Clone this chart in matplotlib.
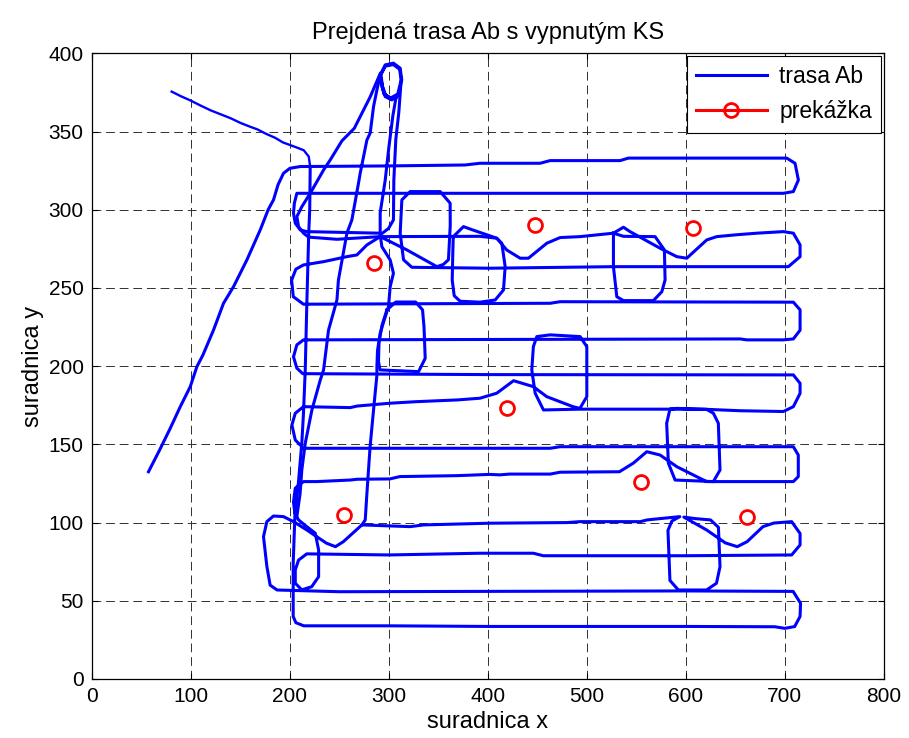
import matplotlib
matplotlib.use("Agg")
import matplotlib.pyplot as plt
from matplotlib.lines import Line2D

plt.rcParams['font.family'] = ['Liberation Sans', 'DejaVu Sans']

# ---------------- data ----------------
title = "Prejdená trasa Ab s vypnutým KS"
xlabel = "suradnica x"
ylabel = "suradnica y"
legend_labels = ["trasa Ab", "prekážka"]
xticks = [0, 100, 200, 300, 400, 500, 600, 700, 800]
yticks = [0, 50, 100, 150, 200, 250, 300, 350, 400]

# obstacles
obst_x = [254.8, 284.5, 447.8, 607.7, 419.0, 555.0, 661.6]
obst_y = [104.9, 265.8, 290.3, 288.2, 173.0, 126.2, 103.8]

# route: entry (jagged) + lower rows
route_entry = [(80.5, 375.5), (90, 372.5), (99, 370), (110, 366.5), (120, 363.5), (130, 361),
               (140, 358.5), (150, 355.5), (160, 353), (167, 351.4), (176, 348.5), (185, 346),
               (193, 343), (200, 341.4), (208, 339.5), (214, 338), (219, 334), (220.5, 327.5),
               (220, 300), (219, 285), (217, 238), (215.5, 198), (213.7, 170), (212, 150.7),
               (208.5, 125), (205, 104), (203.3, 74), (203.3, 40), (206, 36), (214, 34),
               (300, 34), (400, 33.6), (500, 33.6), (600, 33.6), (690, 33.4), (700, 32.4),
               (710, 33.5), (715.5, 40), (716, 48.4), (708.5, 56), (600, 56.3), (400, 56),
               (250, 55.8), (187, 56.9), (180, 60), (176.7, 72), (173.3, 91), (176.7, 100.6),
               (183.4, 104.2), (193.5, 103.8), (203.6, 100.6), (217, 95.3), (227, 91),
               (237, 86.8), (246, 84.6), (254, 87.8), (272.7, 98.5), (321.5, 97.4), (335, 98.5),
               (402, 99.6), (480, 100), (493, 100.6), (554, 100.6), (561, 101.7), (594, 103.8),
               (586, 101), (582, 95), (584, 63), (592.5, 56.9), (621, 56.9), (631, 61.2),
               (634.6, 71.8), (633, 97), (625, 101.7), (610, 102.5), (598, 103.5),
               (621, 95.3), (640, 87), (652, 84.6), (662, 87.8), (678, 97.4), (689, 99.7),
               (707, 100.6), (715.5, 93), (715.5, 85.7), (707, 79.3), (600, 78.8), (456, 78.8),
               (446, 80.4), (392, 80.4), (300, 79.3), (217, 80), (208.7, 76), (205.4, 69.7),
               (205.4, 61.2), (212, 57), (222, 59), (229, 65.4), (229, 82.5), (225.6, 93.2),
               (217, 97.4), (208.7, 101.7), (205, 106), (203.6, 113), (205.4, 122),
               (213.7, 126.2), (227, 126.2), (261, 127.2), (268, 127.7), (301, 127.9),
               (311, 129.4), (369, 130), (402, 130.8), (412, 130.5), (422, 131), (463, 131),
               (473, 132.2), (533, 132.5), (547, 138), (560.6, 145.3), (574, 143.2),
               (591, 135.7), (611, 129.4), (621, 126.2), (708.7, 126.2), (713.7, 129.4),
               (713.7, 143.2), (708.7, 148.5), (473, 148.5), (463, 147.5), (213.7, 147.5),
               (205.4, 152.8), (202, 162.4), (205.4, 169.9), (213.7, 174.1), (261, 173.5),
               (268, 174.5), (301, 176.3), (328, 177.3), (369, 178.4), (392, 179.5),
               (409, 182.7), (426, 190.7), (446, 186.9), (459.5, 180.5), (486, 174.1),
               (493, 173), (500, 180.5), (500, 212.5), (493.2, 218.9), (462.9, 220),
               (449.5, 218.9), (446, 212.5), (444.4, 197.6), (447.8, 182.7), (456.2, 172),
               (493, 172.5), (584, 172.5), (580.7, 163.5), (582.4, 138), (589.2, 127.2),
               (627.9, 126.2), (634.6, 133.6), (632.9, 163.5), (627.9, 169.9), (621, 172.4),
               (590.7, 173), (584, 172.5), (621, 172.4),
               (654.8, 171.5), (698.6, 171), (708.7, 174.1), (715.5, 182.6), (715.5, 189),
               (708.7, 194.4), (400, 194.6), (213, 195.2), (207, 198.7), (203.6, 206),
               (207, 213.6), (213.7, 216.8), (654.9, 217.4), (661.6, 216.8), (698.6, 216.8),
               (708.7, 217.4), (715.5, 223), (715.5, 236), (708.7, 240.9), (473, 241.2),
               (463, 240.2), (213.7, 239.6), (203.4, 244.4), (201.7, 255), (206, 262),
               (213.7, 264.7), (234, 266.8), (257.6, 270), (267.7, 271.1), (277.8, 277.5),
               (291.2, 282.8), (318.2, 274.3), (348.5, 263.6), (355, 265), (360.2, 268),
               (362, 290), (361.9, 304.2), (351.8, 311.6), (321.5, 311.6), (313.1, 306.3),
               (311.4, 285), (314.8, 268), (323.2, 263.2), (402.3, 262.6), (526.9, 263.6),
               (703.7, 263.6), (715.5, 270), (715.5, 277.5), (708.7, 285), (698.6, 286),
               (671.7, 285), (651.5, 284), (631.3, 282.8), (621.2, 280.7), (601, 269),
               (590.9, 270), (574, 275.4), (543.7, 286), (537, 288.8), (526.9, 285),
               (493.2, 282.8), (473, 282.2), (459.6, 278.6), (441, 269), (432.6, 269),
               (419, 274.3), (409, 281.8), (392, 283), (291.2, 282.8)]

# route: start line, top rows, up to the top loop and down line B
route_top = [(57.1, 132.5), (68, 146), (79.1, 160.3), (89.2, 174.1), (99.3, 186.9),
             (106, 199.7), (112, 207), (122.8, 223.1), (132.9, 240.2), (143, 250.8),
             (156.5, 267.9), (170, 287.1), (178, 300), (183.4, 306.3), (188, 316),
             (193.5, 323.3), (200, 326.5), (210.4, 327.6), (300, 328), (377, 328.6),
             (392, 329.7), (452.8, 329.7), (462.9, 331.4), (533.6, 331.4), (542, 333),
             (702, 333), (710.4, 329.7), (713.8, 319), (708.7, 311.6), (698.6, 310.5),
             (207, 310.5), (204.5, 304.2), (203.6, 297.8), (205.4, 291.4), (210.4, 287.1),
             (217, 286), (291.2, 285), (291.2, 290), (291.2, 298), (296.3, 319), (300, 340),
             (304, 360), (307, 371), (309.7, 373.4), (303, 370.2), (296.3, 372.3),
             (292.9, 378.7), (291.2, 386), (296.3, 392.6), (304.6, 393.7), (311.4, 390.5),
             (313, 383), (309.7, 373.4), (303, 370.8), (296.8, 373), (293.5, 379),
             (292, 386.5), (296.5, 391.8), (304.5, 392.8), (310.8, 389.8), (312.4, 383),
             (309, 374), (302, 371.5), (295, 374), (291.2, 386), (287.9, 376.6),
             (284.5, 366), (281.1, 349), (277.8, 344.6), (271, 323.3), (269.3, 317),
             (262.6, 293.5), (257.6, 285), (249, 255), (247.5, 242.3), (239, 223),
             (234, 197.6), (230.6, 191), (222.2, 172), (215.5, 150.7), (212, 133.6),
             (210.3, 118.7), (207, 103.8)]

# diagonal A from the top loop down to the row 281
route_diag = [(291.2, 387), (281, 372), (265, 352), (252.5, 344), (240.7, 331.8),
              (234, 325.4), (220.5, 310.5), (212.1, 302), (207, 295.6), (208.7, 289.2),
              (213.7, 285), (218.8, 282.5), (247.5, 281.1), (291.2, 282.8)]

# return line C from the top loop through the junction down to row 100
route_down = [(312.4, 383), (311.5, 375), (310, 362), (307, 345), (305, 319), (304.6, 293.5),
              (299.6, 288), (291.2, 283.9), (292.9, 276.4), (301.3, 267.9), (304.6, 259.4),
              (301.3, 250.8), (299.6, 238), (295, 229), (291.2, 221), (288.5, 210),
              (287.9, 199.7), (287.9, 194.4), (284.5, 172), (281, 148.5), (277.8, 118.7),
              (276.1, 101.7), (272.7, 98.5)]

# small closed loops
loop_a = [(298, 236), (307, 241), (327, 241), (334, 236), (335.5, 225), (336.7, 205),
          (330, 196.5), (291, 197.6), (289.5, 203), (290, 215), (293, 226), (298, 236)]
loop_b = [(365, 282.4), (367, 284), (375.4, 289.2), (385, 287), (409, 281.8), (414.1, 278.6),
          (417.5, 263.6), (415.8, 248.7), (407.4, 242.3), (392, 240.9), (372, 241.5),
          (366, 245), (364, 255), (364.5, 270), (365, 282.4)]
loop_c = [(526.9, 285), (526.9, 263.6), (530.3, 244.4), (537, 241.9), (567.3, 241.9),
          (575.8, 247.6), (579.1, 255.1), (578.4, 274.3), (569, 282.8), (537, 283),
          (526.9, 285)]

route_segments = [route_entry, route_top, route_diag, route_down, loop_a, loop_b, loop_c]

# ---------------- plot ----------------
W, H = 909, 738
fig = plt.figure(figsize=(W / 100, H / 100), dpi=100)
fig.patch.set_facecolor('white')
ax = fig.add_axes([92 / W, 1 - 679 / H, (883.7 - 92) / W, (679 - 53.3) / H])

blue = '#0000FF'
red = '#FF0000'

for i, seg in enumerate(route_segments):
    xs = [p[0] for p in seg]
    ys = [p[1] for p in seg]
    if i == 0:
        # thinner jagged entry for the first part, thick afterwards
        ax.plot(xs[:18], ys[:18], color=blue, lw=1.7, solid_joinstyle='round', zorder=3)
        ax.plot(xs[17:], ys[17:], color=blue, lw=2.2, solid_joinstyle='round', zorder=3)
    else:
        ax.plot(xs, ys, color=blue, lw=2.2, solid_joinstyle='round', zorder=3)

ax.plot(obst_x, obst_y, linestyle='none', marker='o', markersize=10,
        markerfacecolor='none', markeredgecolor=red, markeredgewidth=2.0, zorder=4)

ax.set_xlim(0, 800)
ax.set_ylim(0, 400)
ax.set_xticks(xticks)
ax.set_yticks(yticks)
ax.tick_params(direction='in', length=4, width=0.8, top=True, right=True,
               labelsize=15, pad=6, colors='black')
ax.grid(True, color='#303030', linestyle=(0, (9, 5)), linewidth=0.7)
ax.set_axisbelow(True)
for s in ax.spines.values():
    s.set_linewidth(0.9)
    s.set_color('black')

ax.set_title(title, fontsize=17, pad=10)
ax.set_xlabel(xlabel, fontsize=17, labelpad=3)
ax.set_ylabel(ylabel, fontsize=17, labelpad=3)

handles = [Line2D([0], [0], color=blue, lw=2.2),
           Line2D([0], [0], color=red, lw=2.2, marker='o', markersize=10,
                  markerfacecolor='none', markeredgecolor=red, markeredgewidth=2.0)]
leg = ax.legend(handles, legend_labels, loc='upper right', fontsize=16.5,
                frameon=True, fancybox=False, edgecolor='black', framealpha=1,
                handlelength=3.1, handletextpad=0.55, borderpad=0.4,
                labelspacing=0.55, borderaxespad=0.1)
leg.get_frame().set_linewidth(0.8)

fig.savefig('out.png', dpi=100, facecolor='white')
